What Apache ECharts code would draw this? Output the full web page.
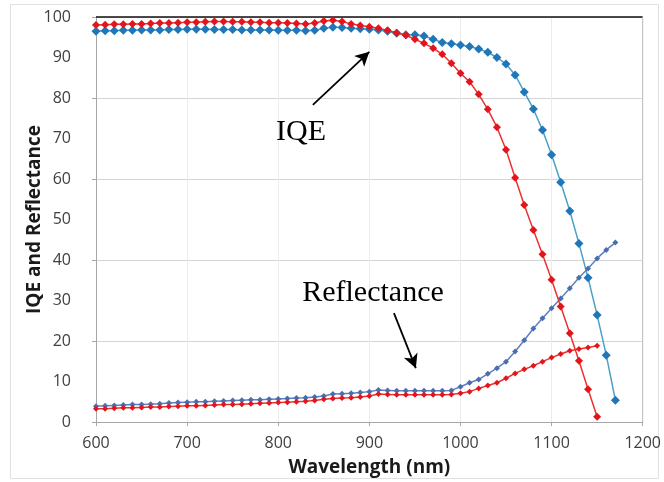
<!DOCTYPE html>
<html>
<head>
<meta charset="utf-8">
<script src="https://cdn.jsdelivr.net/npm/echarts@6/dist/echarts.min.js"></script>
<style>
  html, body { margin: 0; padding: 0; background: #fff; }
  #chart { width: 664px; height: 482px; }
</style>
</head>
<body>
<div id="chart"></div>
<script>
// Wavelength grid (nm), 10 nm steps
const wavelengths = [600,610,620,630,640,650,660,670,680,690,700,710,720,730,740,750,760,770,780,790,
  800,810,820,830,840,850,860,870,880,890,900,910,920,930,940,950,960,970,980,990,
  1000,1010,1020,1030,1040,1050,1060,1070,1080,1090,1100,1110,1120,1130,1140,1150,1160,1170];

// Internal quantum efficiency (%)
const iqeBlue = [96.5,96.6,96.6,96.7,96.7,96.8,96.8,96.8,96.9,96.9,97.0,97.0,97.0,96.9,96.9,96.9,96.8,96.8,96.8,96.8,
  96.7,96.7,96.7,96.6,96.7,97.2,97.5,97.4,97.2,97.1,97.0,96.8,96.5,96.0,95.6,95.6,95.3,94.5,93.7,93.4,
  93.1,92.7,92.1,91.3,90.0,88.4,85.7,81.5,77.3,72.1,66.0,59.2,52.1,44.1,35.6,26.4,16.5,5.4];
const iqeRed = [98.0,98.1,98.2,98.2,98.3,98.3,98.4,98.5,98.5,98.6,98.7,98.7,98.8,98.9,98.9,98.8,98.8,98.7,98.7,98.6,
  98.6,98.5,98.4,98.3,98.5,99.0,99.2,98.9,98.3,97.9,97.6,97.2,96.7,96.1,95.5,94.5,93.5,92.3,90.8,88.6,
  86.1,84.0,80.9,77.2,72.8,67.2,60.3,53.6,47.4,41.4,35.1,28.5,21.9,15.1,8.1,1.3];

// Reflectance (%)
const reflBlue = [3.9,4.0,4.1,4.2,4.3,4.3,4.4,4.5,4.7,4.8,4.9,5.0,5.0,5.1,5.2,5.3,5.4,5.5,5.5,5.6,
  5.7,5.8,5.9,6.0,6.2,6.4,6.9,7.0,7.1,7.3,7.5,7.9,7.8,7.7,7.7,7.7,7.7,7.7,7.7,7.8,
  8.7,9.7,10.5,11.9,13.3,14.9,17.4,20.2,23.1,25.6,28.1,30.5,33.0,35.6,37.9,40.4,42.5,44.3];
const reflRed = [3.3,3.3,3.4,3.5,3.5,3.6,3.7,3.7,3.8,3.9,4.0,4.0,4.1,4.2,4.3,4.3,4.4,4.5,4.6,4.7,
  4.8,4.9,5.0,5.1,5.3,5.6,5.8,5.9,6.0,6.2,6.4,6.9,6.8,6.7,6.7,6.7,6.7,6.7,6.7,6.8,
  7.1,7.5,8.3,9.0,9.7,10.8,12.0,13.0,13.9,14.9,15.9,16.8,17.6,18.0,18.4,18.8];

// Axis ticks
const xTicks = [600, 700, 800, 900, 1000, 1100, 1200];
const yTicks = [0, 10, 20, 30, 40, 50, 60, 70, 80, 90, 100];

// Callout labels with arrows, in data units: [text, textAt, arrowFrom, arrowTo]
const callouts = [
  ['IQE', [825, 71.6], [838, 78.3], [900, 91.4]],
  ['Reflectance', [904, 31.9], [927, 26.9], [951, 13.3]]
];

const pairs = (ys) => ys.map((y, i) => [wavelengths[i], y]);

const labelFont = "'Open Sans', 'Liberation Sans', sans-serif";

const chart = echarts.init(document.getElementById('chart'), null, { renderer: 'canvas' });

function lineSeries(name, data, lineColor, markColor, symbol, size, z) {
  return {
    name, type: 'line', data: pairs(data), xAxisIndex: 0, yAxisIndex: 0,
    symbol, symbolSize: size, showAllSymbol: true, z,
    lineStyle: { color: lineColor, width: 1.5 },
    itemStyle: { color: markColor, borderWidth: 0 },
    emphasis: { disabled: true }, animation: false
  };
}

const arrowLines = callouts.map(c => [
  { coord: c[2], symbol: 'none' },
  { coord: c[3], symbol: 'arrow' }
]);

const option = {
  animation: false,
  backgroundColor: '#fff',
  grid: { left: 96, right: 15, top: 17, bottom: 60, containLabel: false },
  xAxis: [{
    type: 'value', min: 600, max: 1200, interval: 100,
    name: 'Wavelength (nm)', nameLocation: 'middle', nameGap: 36,
    nameTextStyle: { fontFamily: labelFont, fontWeight: 'bold', fontSize: 19, color: '#1a1a1a' },
    axisLine: { show: true, lineStyle: { color: '#a6a6a6', width: 1 } },
    axisTick: { show: true, length: 4, lineStyle: { color: '#a6a6a6' } },
    axisLabel: { fontFamily: labelFont, fontSize: 16, color: '#404040', margin: 13,
      formatter: v => xTicks.includes(v) ? String(v) : '' },
    splitLine: { show: true, lineStyle: { color: '#ececec', width: 1 } }
  }],
  yAxis: [{
    type: 'value', min: 0, max: 100, interval: 10,
    name: 'IQE and Reflectance', nameLocation: 'middle', nameGap: 52, nameRotate: 90,
    nameMoveOverlap: false,
    nameTextStyle: { fontFamily: labelFont, fontWeight: 'bold', fontSize: 19, color: '#1a1a1a' },
    axisLine: { show: true, lineStyle: { color: '#a6a6a6', width: 1 } },
    axisTick: { show: false },
    axisLabel: { fontFamily: labelFont, fontSize: 16, color: '#404040', margin: 25,
      formatter: v => yTicks.includes(v) ? String(v) : '' },
    splitLine: { show: false }
  }, {
    // gridlines every 20 %
    type: 'value', min: 0, max: 100, interval: 20, position: 'left',
    axisLine: { show: false }, axisLabel: { show: false },
    axisTick: { show: true, inside: false, length: 4, lineStyle: { color: '#a6a6a6' } },
    splitLine: { show: true, lineStyle: { color: '#d4d4d4', width: 1 } }
  }],
  series: [
    lineSeries('IQE (blue)', iqeBlue, '#4aa0c6', '#1f77b9', 'diamond', 9, 3),
    lineSeries('IQE (red)', iqeRed, '#e8332f', '#e3141b', 'diamond', 8, 4),
    lineSeries('Reflectance (blue)', reflBlue, '#5f80bd', '#4a6fae', 'diamond', 6, 3),
    lineSeries('Reflectance (red)', reflRed, '#e8332f', '#e3141b', 'diamond', 6, 4),
    {
      type: 'line', data: [], xAxisIndex: 0, yAxisIndex: 0, silent: true,
      markLine: {
        silent: true, animation: false, symbolSize: [11, 14],
        lineStyle: { color: '#000', width: 1.8, type: 'solid' },
        label: { show: false },
        data: arrowLines
      }
    }
  ]
};

chart.setOption(option);

// Callout text, placed from data coordinates; top border line at 100 %
const graphics = callouts.map(c => {
  const p = chart.convertToPixel({ xAxisIndex: 0, yAxisIndex: 0 }, c[1]);
  return {
    type: 'text', x: p[0], y: p[1], silent: true, z: 20,
    style: { text: c[0], font: "30px 'Liberation Serif', 'Times New Roman', serif",
      fill: '#000', textAlign: 'center', textVerticalAlign: 'middle' }
  };
});
const tl = chart.convertToPixel({ xAxisIndex: 0, yAxisIndex: 0 }, [600, 100]);
const tr = chart.convertToPixel({ xAxisIndex: 0, yAxisIndex: 0 }, [1200, 100]);
const br = chart.convertToPixel({ xAxisIndex: 0, yAxisIndex: 0 }, [1200, 0]);
graphics.push({ type: 'line', silent: true, z: 1,
  shape: { x1: tl[0], y1: tl[1], x2: tr[0], y2: tr[1] },
  style: { stroke: '#111', lineWidth: 1.6 } });
graphics.push({ type: 'line', silent: true, z: 1,
  shape: { x1: tr[0], y1: tr[1], x2: br[0], y2: br[1] },
  style: { stroke: '#bdbdbd', lineWidth: 1 } });
graphics.push({ type: 'rect', silent: true, z: 0,
  shape: { x: 10.5, y: 4.5, width: 648, height: 474 },
  style: { fill: 'none', stroke: '#e0e0e0', lineWidth: 1 } });
chart.setOption({ graphic: graphics });
</script>
</body>
</html>
